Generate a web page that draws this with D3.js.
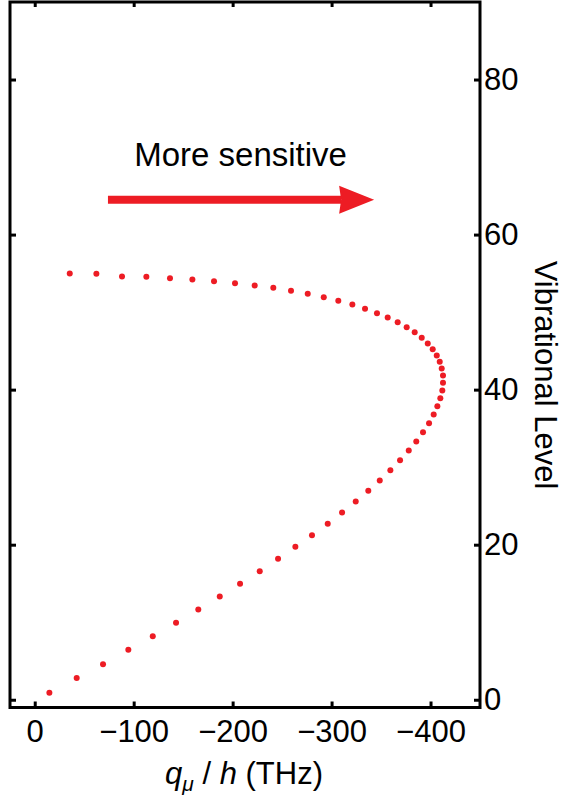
<!DOCTYPE html>
<html>
<head>
<meta charset="utf-8">
<script src="https://cdn.jsdelivr.net/npm/d3@7"></script>
<style>
  body { margin: 0; background: #fff; }
  svg { display: block; }
  .tick text { font-family: "Liberation Sans", Arial, sans-serif; font-size: 31px; fill: #000; }
  .tick line { stroke: #000; stroke-width: 3; }
  .lbl { font-family: "Liberation Sans", Arial, sans-serif; fill: #000; }
</style>
</head>
<body>
<div id="chart"></div>
<script>
// q_mu / h (THz) for each plotted level, bottom to top
const qmu = [
  -14.8, -42.4, -69.0, -94.6, -119.3, -142.8, -165.3, -187.0, -207.5, -227.4,
  -245.9, -263.4, -280.2, -296.1, -310.6, -324.4, -337.1, -348.7, -359.4, -369.2,
  -378.0, -385.6, -392.4, -398.5, -403.2, -406.9, -409.9, -411.9, -412.6, -412.6,
  -411.3, -409.3, -406.3, -402.2, -397.2, -391.1, -384.0, -375.9, -366.8, -356.7,
  -345.9, -333.8, -321.0, -306.8, -292.1, -275.9, -259.0, -241.1, -222.3, -202.4,
  -181.2, -159.3, -136.7, -112.8, -88.2, -62.3, -35.4
]
const level = [
  0.90, 2.79, 4.59, 6.45, 8.20, 9.93, 11.65, 13.32, 14.96, 16.58,
  18.18, 19.73, 21.23, 22.70, 24.16, 25.57, 26.95, 28.28, 29.61, 30.90,
  32.15, 33.31, 34.51, 35.67, 36.79, 37.86, 38.90, 39.89, 40.88, 41.82,
  42.73, 43.59, 44.40, 45.22, 45.95, 46.69, 47.41, 48.05, 48.70, 49.30,
  49.86, 50.43, 50.98, 51.46, 51.92, 52.36, 52.75, 53.13, 53.43, 53.73,
  53.99, 54.20, 54.37, 54.55, 54.59, 54.94, 54.98
]
const xTicks = [0, -100, -200, -300, -400]
const yTicks = [0, 20, 40, 60, 80]
// annotation arrow, in data units
const arrowFrom = [-74, 64.5]
const arrowTo = [-343, 64.5]
const noteText = 'More sensitive'
const notePos = [-208, 68.9]

const width = 564
const height = 797
const red = '#ed1c24'

const svg = d3.select('#chart')
  .append('svg')
  .attr('width', width)
  .attr('height', height)

const x = d3.scaleLinear()
  .domain([25, -450])
  .range([10, 480])

const y = d3.scaleLinear()
  .domain([-1, 90])
  .range([707.5, 2])

const fmt = d3.format('d')

// axes, ticks pointing inward on all four sides
const axBottom = svg.append('g')
  .attr('transform', `translate(0,${y.range()[0]})`)
  .call(d3.axisBottom(x).tickValues(xTicks).tickSizeInner(-6).tickSizeOuter(0).tickPadding(12).tickFormat(fmt))

const axTop = svg.append('g')
  .attr('transform', `translate(0,${y.range()[1]})`)
  .call(d3.axisTop(x).tickValues(xTicks).tickSizeInner(-5).tickSizeOuter(0).tickFormat(''))

const axLeft = svg.append('g')
  .attr('transform', `translate(${x.range()[0]},0)`)
  .call(d3.axisLeft(y).tickValues(yTicks).tickSizeInner(-6).tickSizeOuter(0).tickFormat(''))

const axRight = svg.append('g')
  .attr('transform', `translate(${x.range()[1]},0)`)
  .call(d3.axisRight(y).tickValues(yTicks).tickSizeInner(-6).tickSizeOuter(0).tickPadding(4).tickFormat(fmt))

;[axBottom, axTop, axLeft, axRight].forEach(g => {
  g.select('.domain').remove()
  g.attr('font-size', null).attr('font-family', null)
})

// frame
svg.append('rect')
  .attr('x', x.range()[0])
  .attr('y', y.range()[1])
  .attr('width', x.range()[1] - x.range()[0])
  .attr('height', y.range()[0] - y.range()[1])
  .attr('fill', 'none')
  .attr('stroke', '#000')
  .attr('stroke-width', 3)

// points
svg.append('g')
  .selectAll('circle')
  .data(d3.zip(qmu, level))
  .enter()
  .append('circle')
  .attr('cx', d => x(d[0]))
  .attr('cy', d => y(d[1]))
  .attr('r', 3)
  .attr('fill', red)

// arrow + note
const ax0 = x(arrowFrom[0])
const ax1 = x(arrowTo[0])
const ay = y(arrowFrom[1])
const headLen = 35
const headHalf = 14

svg.append('line')
  .attr('x1', ax0)
  .attr('y1', ay)
  .attr('x2', ax1 - headLen + 2)
  .attr('y2', ay)
  .attr('stroke', red)
  .attr('stroke-width', 8)

svg.append('path')
  .attr('d', `M${ax1},${ay} L${ax1 - headLen},${ay - headHalf} L${ax1 - headLen + 2},${ay} L${ax1 - headLen},${ay + headHalf} Z`)
  .attr('fill', red)

svg.append('text')
  .attr('class', 'lbl')
  .attr('x', x(notePos[0]))
  .attr('y', y(notePos[1]))
  .attr('text-anchor', 'middle')
  .attr('font-size', 33)
  .text(noteText)

// x label
const xl = svg.append('text')
  .attr('class', 'lbl')
  .attr('x', 244)
  .attr('y', 784)
  .attr('text-anchor', 'middle')
  .attr('font-size', 31)
xl.append('tspan').attr('font-style', 'italic').text('q')
xl.append('tspan').attr('font-style', 'italic').attr('font-size', 21).attr('dy', 7).text('μ')
xl.append('tspan').attr('dy', -7).text(' / ')
xl.append('tspan').attr('font-style', 'italic').text('h')
xl.append('tspan').text(' (THz)')

// y label on the right
svg.append('text')
  .attr('class', 'lbl')
  .attr('transform', 'translate(535,375) rotate(90)')
  .attr('text-anchor', 'middle')
  .attr('font-size', 31)
  .text('Vibrational Level')
</script>
</body>
</html>
